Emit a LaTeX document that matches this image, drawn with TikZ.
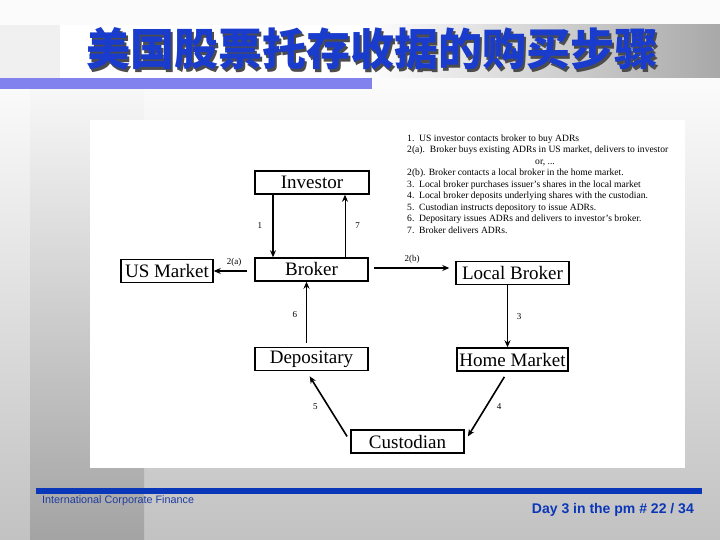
\documentclass[tikz,border=0pt]{standalone}
\usepackage{fontspec}
\setmainfont{Liberation Serif}
\newfontfamily\cjk{Noto Sans CJK SC}
\newfontfamily\arialf{Liberation Sans}
\usetikzlibrary{arrows.meta,positioning}
\definecolor{ttl}{RGB}{25,60,205}
\definecolor{ftr}{RGB}{10,55,185}
\definecolor{ftrtxt}{RGB}{30,60,160}
\definecolor{lav}{RGB}{130,130,238}
\newcommand{\titletext}{美国股票托存收据的购买步骤}

\begin{document}
\begin{tikzpicture}[x=1pt,y=-1pt,
  adrbox/.style={draw,line width=1.5pt,minimum height=23pt,inner sep=1pt,font=\fontsize{19}{19}\selectfont},
  flow/.style={-{Stealth[length=7pt,width=6pt]},line width=1.6pt},
  thinflow/.style={-{Stealth[length=7pt,width=6pt]},line width=0.8pt},
  steplbl/.style={font=\fontsize{9}{9}\selectfont,inner sep=1pt}]
  \useasboundingbox (0,0) rectangle (720,540);
  % slide background
  \fill[gray!3] (0,0) rectangle (720,89);
  \shade[top color=gray!4,bottom color=gray!48] (0,89) rectangle (720,540);
  \shade[top color=gray!6,bottom color=gray!72] (30,89) rectangle (144,540);
  \fill[gray!12] (0,25) rectangle (60,78);
  \fill[white] (60,25) rectangle (360,78);
  \shade[left color=white,right color=gray!68] (360,25) rectangle (720,78);
  \fill[lav] (0,78) rectangle (372,89);
  % title, with its shadow in the same node
  \node[font=\cjk\bfseries\fontsize{44}{44}\selectfont,text=ttl] (title) at (372,50)
    {\rlap{\hspace{2.5pt}\raisebox{-2.5pt}{\color{black!70}\titletext}}\titletext};
  % white panel
  \fill[white] (90,120) rectangle (685,468);
  % boxes
  \node[adrbox,minimum width=114pt] (investor) at (312,182.5) {Investor};
  \node[adrbox,minimum width=92pt] (usmkt) at (167,271) {US Market};
  \node[adrbox,minimum width=113pt] (broker) at (311.5,269.5) {Broker};
  \node[adrbox,minimum width=113pt] (localbrk) at (512.5,273) {Local Broker};
  \node[adrbox,minimum width=113pt] (depos) at (311.5,359) {Depositary};
  \node[adrbox,minimum width=111pt] (homemkt) at (512.5,359.5) {Home Market};
  \node[adrbox,minimum width=113pt] (custod) at (407.5,441.5) {Custodian};
  % steps
  \draw[flow] ([xshift=-39pt]investor.south) -- ([xshift=-39pt]investor.south |- broker.north)
    node[steplbl,midway,left=9pt] {1};
  \draw[thinflow] ([xshift=33.5pt]broker.north) -- ([xshift=33.5pt]broker.north |- investor.south)
    node[steplbl,midway,right=9pt] {7};
  \draw[flow,shorten <=7pt] (usmkt.east -| broker.west) -- (usmkt.east)
    node[steplbl,midway,above=3pt] {2(a)};
  \draw[flow,shorten <=5pt,shorten >=6pt] ([yshift=1.5pt]broker.east) -- ([yshift=1.5pt]broker.east -| localbrk.west)
    node[steplbl,midway,above=3pt] {2(b)};
  \draw[thinflow] ([xshift=-5pt]localbrk.south) -- ([xshift=-5pt]localbrk.south |- homemkt.north)
    node[steplbl,midway,right=8pt] {3};
  \draw[flow,shorten <=6pt,shorten >=6pt] ([xshift=-5pt]homemkt.south) -- (custod.east)
    node[steplbl,midway,right=9pt] {4};
  \draw[flow,shorten <=6pt,shorten >=6pt] (custod.west) -- ([xshift=-5pt]depos.south)
    node[steplbl,midway,left=9pt] {5};
  \draw[thinflow,shorten <=4pt] ([xshift=-5pt]depos.north) -- ([xshift=-5pt]depos.north |- broker.south)
    node[steplbl,midway,left=8pt] {6};
  % legend
  \node[anchor=north west,align=left,inner sep=0pt,font=\fontsize{9.6}{11.5}\selectfont] (legend) at (407,134.5)
    {1.\ \ US investor contacts broker to buy ADRs\\
     2(a).\ \ Broker buys existing ADRs in US market, delivers to investor\\
     \hspace*{128pt}or, ...\\
     2(b). Broker contacts a local broker in the home market.\\
     3.\ \ Local broker purchases issuer's shares in the local market\\
     4.\ \ Local broker deposits underlying shares with the custodian.\\
     5.\ \ Custodian instructs depository to issue ADRs.\\
     6.\ \ Depositary issues ADRs and delivers to investor's broker.\\
     7.\ \ Broker delivers ADRs.};
  % footer
  \fill[ftr] (36,488) rectangle (702,494);
  \node[anchor=west,inner sep=0pt,font=\arialf\fontsize{10.8}{10.8}\selectfont,text=ftrtxt] (course) at (42,501) {International Corporate Finance};
  \node[anchor=east,inner sep=0pt,font=\arialf\bfseries\fontsize{14}{14}\selectfont,text=ftr] (pageno) at (694,510) {Day 3 in the pm \# 22 / 34};
\end{tikzpicture}
\end{document}
